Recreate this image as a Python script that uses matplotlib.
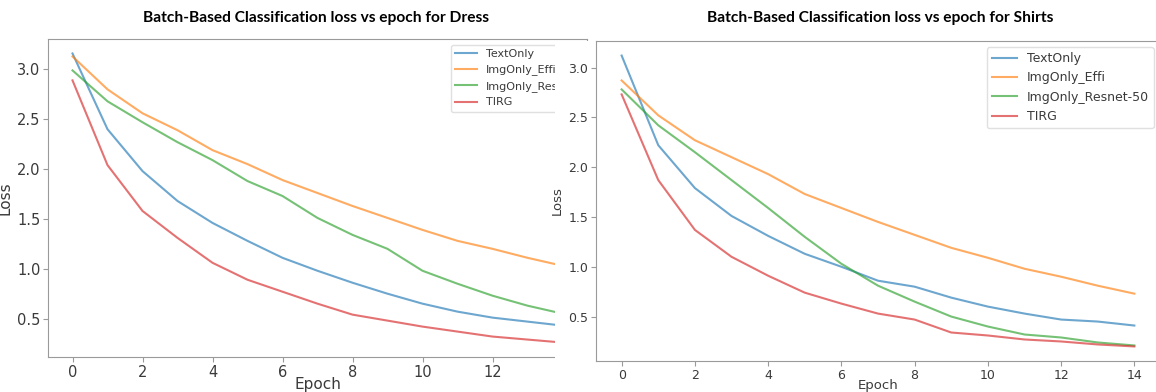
import matplotlib.pyplot as plt
from matplotlib.patches import Rectangle

W, H = 1156, 392

epochs = list(range(15))
labels_dress = ["TextOnly", "ImgOnly_Effi", "ImgOnly_Resnet", "TIRG"]
labels_shirts = ["TextOnly", "ImgOnly_Effi", "ImgOnly_Resnet-50", "TIRG"]

dress_text = [3.16, 2.40, 1.98, 1.68, 1.46, 1.28, 1.11, 0.98, 0.86, 0.75, 0.65, 0.57, 0.51, 0.47, 0.43]
dress_effi = [3.13, 2.80, 2.56, 2.39, 2.19, 2.05, 1.89, 1.76, 1.63, 1.51, 1.39, 1.28, 1.20, 1.11, 1.03]
dress_resnet = [2.99, 2.68, 2.47, 2.27, 2.09, 1.88, 1.73, 1.51, 1.34, 1.20, 0.98, 0.85, 0.73, 0.63, 0.55]
dress_tirg = [2.89, 2.04, 1.58, 1.31, 1.06, 0.89, 0.77, 0.65, 0.54, 0.48, 0.42, 0.37, 0.32, 0.29, 0.26]

shirts_text = [3.12, 2.22, 1.79, 1.51, 1.31, 1.13, 1.00, 0.86, 0.80, 0.69, 0.60, 0.53, 0.47, 0.45, 0.41]
shirts_effi = [2.87, 2.52, 2.27, 2.10, 1.93, 1.73, 1.59, 1.45, 1.32, 1.19, 1.09, 0.98, 0.90, 0.81, 0.73]
shirts_resnet = [2.78, 2.42, 2.15, 1.87, 1.59, 1.30, 1.03, 0.81, 0.65, 0.50, 0.40, 0.32, 0.29, 0.24, 0.21]
shirts_tirg = [2.73, 1.87, 1.37, 1.10, 0.91, 0.74, 0.63, 0.53, 0.47, 0.34, 0.31, 0.27, 0.25, 0.22, 0.20]

COLORS = ["#1f77b4", "#ff7f0e", "#2ca02c", "#d62728"]
SPINE = "#9a9a9a"
TEXT = "#3a3a3a"


def px_box(left, top, right, bottom):
    return [left / W, 1 - bottom / H, (right - left) / W, (bottom - top) / H]


def draw(ax, series, labels, tick_fs, label_fs, legend_fs):
    for ys, lab, c in zip(series, labels, COLORS):
        ax.plot(epochs, ys, color=c, alpha=0.65, lw=1.5, label=lab)
    ax.set_xticks(range(0, 15, 2))
    ax.set_yticks([0.5, 1.0, 1.5, 2.0, 2.5, 3.0])
    ax.set_xlim(-0.7, 14.7)
    ax.tick_params(colors=SPINE, labelcolor=TEXT, labelsize=tick_fs, pad=2)
    for s in ax.spines.values():
        s.set_color(SPINE)
    ax.set_xlabel("Epoch", fontsize=label_fs, color=TEXT, labelpad=-2)
    ax.set_ylabel("Loss", fontsize=label_fs, color=TEXT, labelpad=3)
    ax.legend(loc="upper right", fontsize=legend_fs, labelcolor=TEXT,
              framealpha=1, edgecolor="#e0e0e0", handlelength=2.0)


fig = plt.figure(figsize=(W / 100, H / 100), dpi=100)

ax1 = fig.add_axes(px_box(48, 39, 587, 357))
draw(ax1, [dress_text, dress_effi, dress_resnet, dress_tirg], labels_dress, 10.5, 11, 8)

# the left screenshot is cut off on its right side
cover = fig.add_axes(px_box(555, 41, W, H))
cover.add_patch(Rectangle((0, 0), 1, 1, color="white"))
cover.set_axis_off()

ax2 = fig.add_axes(px_box(596, 41, 1160, 361))
draw(ax2, [shirts_text, shirts_effi, shirts_resnet, shirts_tirg], labels_shirts, 9, 9.5, 9)

fig.text(316 / W, 1 - 18 / H, "Batch-Based Classification loss vs epoch for Dress",
         ha="center", va="center", fontsize=11.2, fontweight="bold", family="Lato")
fig.text(880 / W, 1 - 18 / H, "Batch-Based Classification loss vs epoch for Shirts",
         ha="center", va="center", fontsize=11.2, fontweight="bold", family="Lato")

fig.savefig("out.png", dpi=100)
